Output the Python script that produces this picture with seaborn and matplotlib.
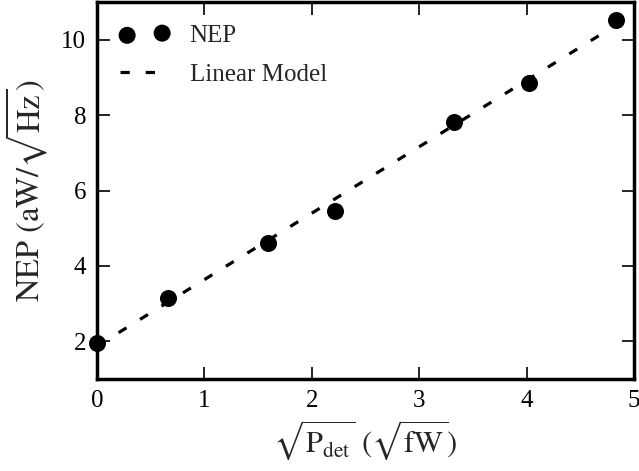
import matplotlib
matplotlib.use("Agg")
import matplotlib.pyplot as plt
import seaborn as sns
import pandas as pd

# Data
sqrt_pdet = [0.0, 0.66, 1.59, 2.22, 3.32, 4.02, 4.83]
nep = [1.97, 3.14, 4.61, 5.47, 7.82, 8.86, 10.53]
model_x = [0.0, 4.83]
model_y = [1.88, 10.38]

sns.set_theme(style="ticks")
plt.rcParams['font.family'] = ['Liberation Serif', 'DejaVu Serif']
plt.rcParams['mathtext.fontset'] = 'stix'

fig = plt.figure(figsize=(6.39, 4.71), dpi=100)
ax = fig.add_axes([0.152, 0.195, 0.84, 0.801])

pts = pd.DataFrame({"x": sqrt_pdet, "y": nep})
mdl = pd.DataFrame({"x": model_x, "y": model_y})

sns.lineplot(data=mdl, x="x", y="y", ax=ax, color="black", linewidth=2.3,
             linestyle=(0, (2.9, 5.0)), label="Linear Model", zorder=2)
sns.scatterplot(data=pts, x="x", y="y", ax=ax, color="black", s=150,
                edgecolor="black", linewidth=0, label="NEP", zorder=3, clip_on=False)

ax.set_xlim(0, 5)
ax.set_ylim(1, 11)
ax.set_xticks([0, 1, 2, 3, 4, 5])
ax.set_yticks([2, 4, 6, 8, 10])

for s in ax.spines.values():
    s.set_linewidth(2.5)
    s.set_color("black")
ax.tick_params(direction="in", length=9, width=1.2, top=True, right=True,
               labelsize=18, pad=8, colors="black")

ax.set_xlabel(r"$\sqrt{\mathrm{P_{det}}}\ (\sqrt{\mathrm{fW}})$", fontsize=22, labelpad=4)
ax.set_ylabel(r"$\mathrm{NEP}\ (\mathrm{aW}/\sqrt{\mathrm{Hz}})$", fontsize=23.5, labelpad=7)

h, l = ax.get_legend_handles_labels()
order = [l.index("NEP"), l.index("Linear Model")]
ax.legend([h[i] for i in order], [l[i] for i in order], loc="upper left",
          frameon=False, fontsize=18, scatterpoints=2, handlelength=2.0,
          labelspacing=0.65, borderaxespad=0.5)

fig.savefig("out.png", dpi=100)
